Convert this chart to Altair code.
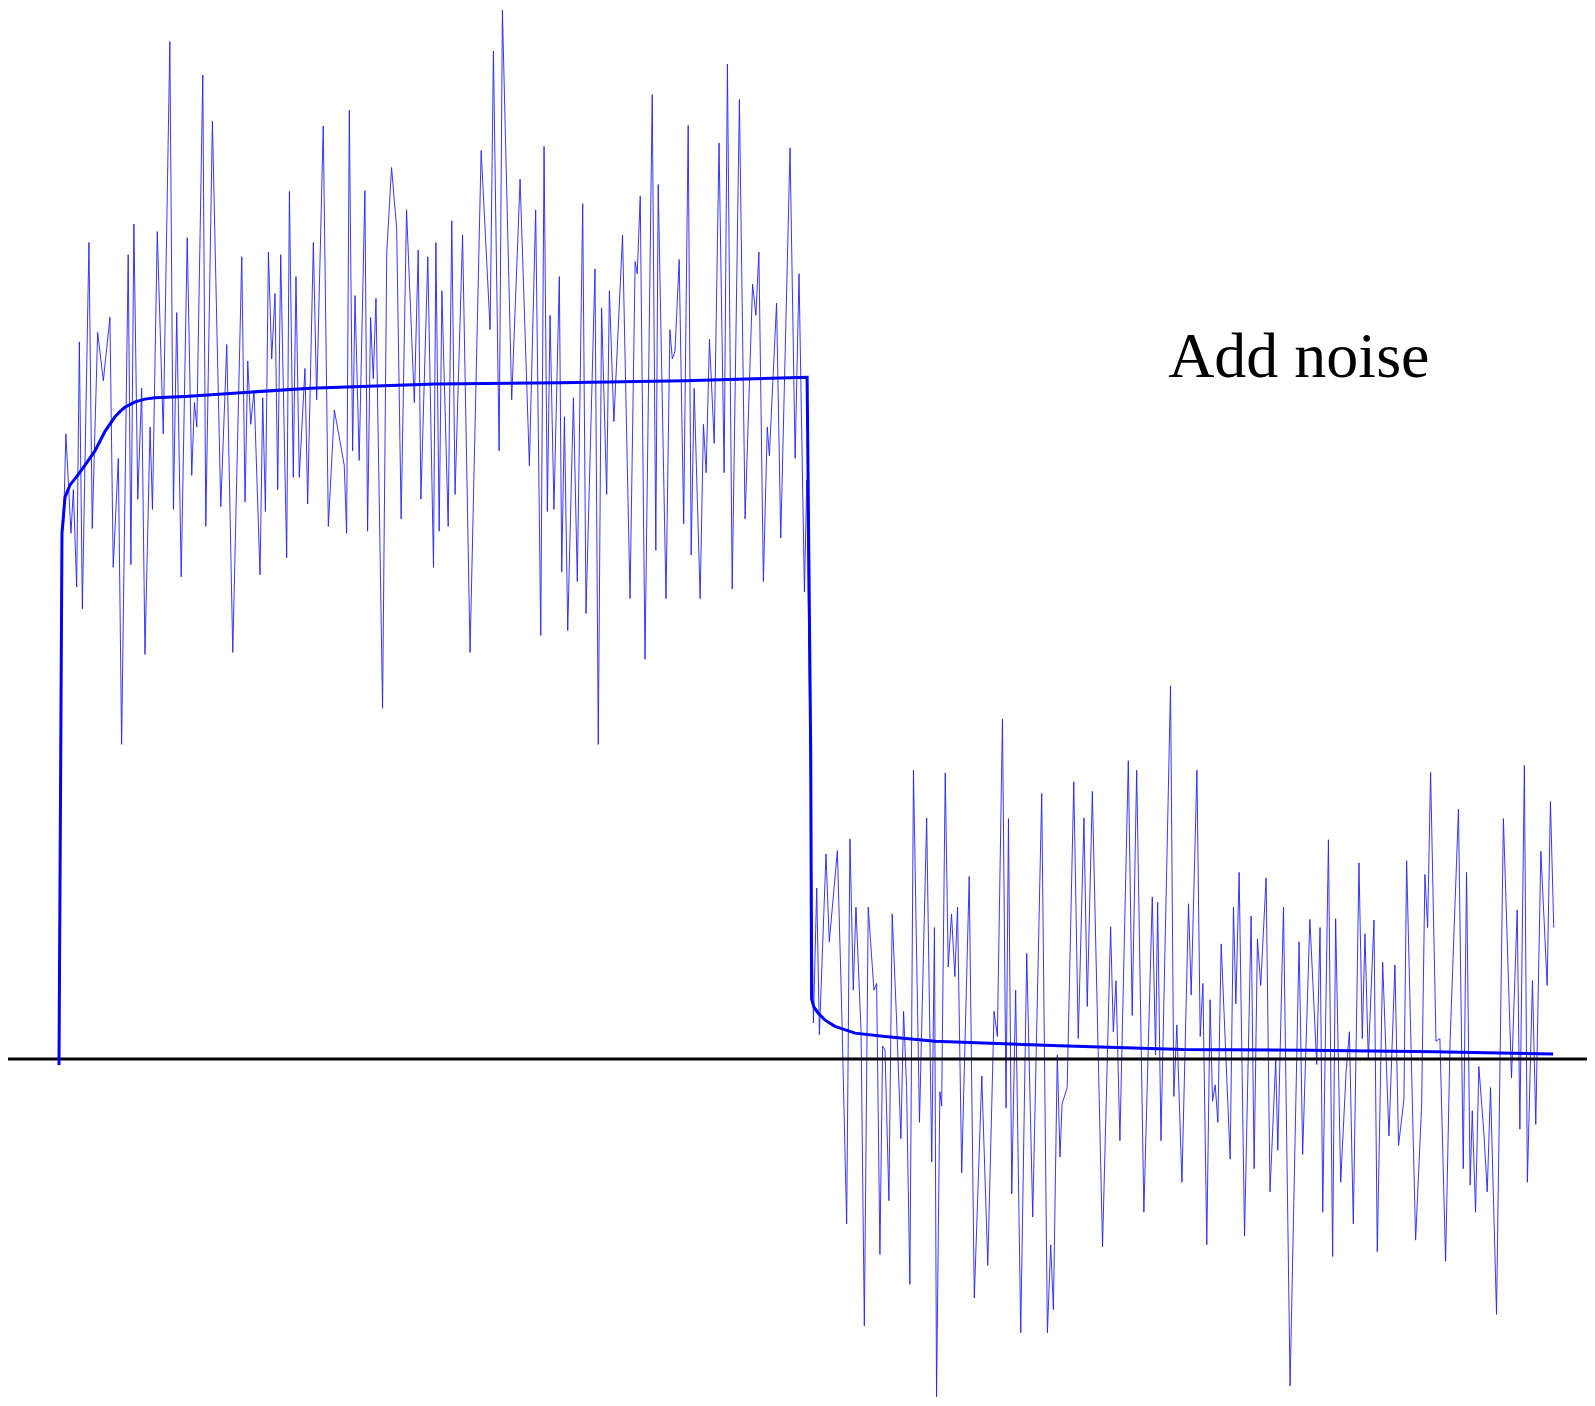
import altair as alt
import pandas as pd

# Noisy measurement (sample index, value); step of height 1 between samples 0 and 250
noise_t = [1.5, 2.3, 4.0, 4.8, 5.9, 6.8, 7.8, 10.0, 11.1, 12.9, 14.8, 17.0, 18.1, 19.8, 20.9, 23.1, 24.0, 25.0,
           26.3, 27.6, 28.7, 30.4, 31.2, 32.8, 34.8, 37.0, 38.2, 39.3, 40.8,
           42.8, 44.3, 45.2, 46.0, 48.0, 49.0, 51.2, 54.0, 56.0, 58.0, 61.0, 62.1, 63.0, 64.0, 65.1, 67.1, 68.0,
           68.9, 69.9, 71.0, 72.1, 73.0, 74.0, 76.0, 76.9, 78.2, 79.1, 80.2, 82.1, 83.0,
           84.9, 86.0, 88.2, 89.9, 91.9, 93.8, 95.2, 96.0, 96.9, 98.0, 98.8, 100.2, 102.1, 103.0, 104.0, 104.9,
           105.8, 108.0, 109.4, 111.0, 112.7, 114.2, 116.0, 118.6, 119.9, 120.8, 123.1, 125.0,
           125.8, 126.9, 127.8, 129.9, 131.1, 132.2, 134.7, 137.2, 140.9, 143.9, 145.0, 146.9, 148.0, 151.1,
           153.9, 157.0, 159.1, 160.8, 161.9, 163.0, 163.9, 165.2, 167.0,
           167.8, 168.7, 169.8, 171.7, 173.0, 174.8, 175.9, 178.9, 180.0, 181.1, 182.8, 183.7, 185.2, 188.1,
           190.6, 192.3, 193.0, 194.0, 195.6, 198.0, 199.2, 200.0, 202.6, 203.9, 204.7, 205.6, 207.0, 208.5,
           210.0, 211.0, 212.0, 214.0, 215.1, 216.0, 217.1, 218.7, 220.3, 222.0, 223.1, 224.7, 227.1, 229.0,
           231.5, 232.6, 233.6, 235.1, 236.4, 237.1, 239.5, 240.9, 244.0, 245.7, 247.0, 248.8, 249.6,
           251.8, 252.9, 253.8, 256.0, 257.1, 259.8, 261.2, 262.9, 264.0, 265.1, 266.0, 267.7, 268.8, 270.1,
           272.0, 272.9, 274.0, 274.9, 275.7, 277.0, 278.1, 279.6, 281.0, 281.9, 282.9, 284.0, 285.2, 287.2,
           289.6, 291.3, 292.2,
           292.9, 294.0, 294.6, 295.8, 296.8, 297.9, 299.0, 299.9, 301.3, 303.8, 305.5, 308.0, 310.0, 312.1,
           313.2, 314.9, 316.1, 316.9, 318.0, 319.3, 321.0, 323.0, 325.0, 328.0, 329.9, 331.0, 331.9, 333.2,
           334.1, 334.8, 336.5, 338.7, 340.2, 342.1, 343.2, 344.9, 348.3, 351.0, 351.9, 352.8, 354.1, 356.9,
           358.2, 359.7, 362.1, 364.9, 366.0, 366.7, 367.8, 371.0, 372.1, 373.1, 374.8,
           377.0, 377.9, 379.8, 380.9, 381.8, 383.1, 384.2, 385.0, 385.9, 386.8, 387.9, 390.9, 392.0, 392.8,
           393.9, 395.7, 397.9, 398.9, 400.0, 401.1, 402.9, 404.2, 406.1, 406.8, 408.7, 410.9, 413.9, 415.1, 417.5,
           419.8, 420.9, 421.8, 423.7, 425.1, 426.1, 427.8, 429.6, 430.7, 432.0, 433.9, 435.0, 435.9, 437.0,
           438.9, 440.0, 441.8, 443.9, 445.9, 447.1, 448.9, 449.8, 452.8, 454.8, 455.9, 456.8, 457.8,
           459.6, 460.9, 462.8, 464.3, 467.1, 468.7, 469.8, 471.0, 471.7, 472.8, 473.9, 475.6, 476.7, 477.8,
           479.8, 482.1, 484.8, 486.7, 487.6, 489.1, 490.1, 491.8, 492.9, 494.6, 496.7, 497.8, 498.9]

noise_v = [0.78, 0.918, 0.772, 0.836, 0.693, 1.053, 0.661, 1.199, 0.779, 1.067, 0.996, 1.089, 0.722, 0.882, 0.462, 1.181, 0.726, 1.226,
           0.822, 0.985, 0.594, 0.928, 0.807, 1.215, 0.918, 1.494, 0.807, 1.096, 0.708,
           1.206, 0.857, 0.964, 0.928, 1.445, 0.782, 1.377, 0.811, 1.049, 0.597, 1.178, 0.818, 1.025, 0.932, 0.982, 0.711, 0.971,
           0.804, 1.185, 1.028, 1.124, 0.836, 1.181, 0.736, 1.274, 0.854, 1.149, 0.854, 1.014, 0.815,
           1.199, 0.968, 1.370, 0.782, 0.953, 0.907, 0.872, 0.772, 1.393, 0.893, 1.121, 0.879, 1.275, 0.775, 1.089, 0.999,
           1.117, 0.515, 1.185, 1.309, 1.220, 0.793, 1.247, 0.964, 1.188, 0.822, 1.178, 0.722,
           1.199, 0.775, 1.128, 0.782, 1.231, 0.829, 1.210, 0.597, 1.334, 1.071, 1.480, 0.893, 1.540, 0.968,
           1.292, 0.871, 1.247, 0.622, 1.340, 0.804, 1.092, 0.807, 1.149,
           0.715, 0.943, 0.629, 0.971, 0.701, 1.256, 0.654, 1.160, 0.462, 1.103, 0.829, 1.128, 0.936, 1.210,
           0.676, 1.171, 1.153, 1.267, 0.587, 1.416, 0.747, 1.284, 0.676, 1.071, 1.028, 1.039, 1.174, 0.786,
           1.371, 0.740, 0.985, 0.676, 0.932, 0.861, 1.057, 0.904, 1.345, 0.861, 1.461, 0.690, 1.409, 0.793,
           1.138, 1.092, 1.185, 0.701, 0.928, 0.886, 1.110, 0.765, 1.338, 0.882, 1.153, 0.686, 0.850,
           0.053, 0.251, 0.036, 0.301, 0.172, 0.306, 0.081, -0.242, 0.323, 0.101, 0.223, 0.040, -0.392, 0.223,
           0.101, 0.111, -0.287, 0.019, 0.013, -0.208, 0.213, 0.053, -0.117, 0.070, -0.042, -0.331, 0.424, -0.093,
           0.354, -0.151, 0.193,
           -0.496, -0.048, -0.069, 0.420, 0.135, 0.213, 0.121, 0.223, -0.167, 0.268, -0.351, -0.025, -0.303, 0.070,
           0.033, 0.499, -0.072, 0.353, -0.198, 0.101, -0.402, 0.155, -0.232, 0.390, -0.402, -0.273, -0.368, 0.006,
           -0.144, -0.066, -0.042, 0.407, 0.030, 0.354, 0.077, 0.393, -0.276, 0.194, 0.040, 0.115, -0.120, 0.438,
           0.064, 0.424, -0.225, 0.238, 0.006, 0.230, -0.120, 0.548, -0.055, 0.050, -0.181,
           0.228, 0.094, 0.424, 0.033, 0.111, -0.273, 0.087, -0.062, -0.038, -0.093, 0.169, -0.147, 0.223, 0.081,
           0.274, -0.260, 0.210, -0.161, 0.176, 0.108, 0.266, -0.195, -0.001, -0.134, 0.223, -0.480, 0.172, -0.140, 0.205,
           -0.008, 0.193, -0.225, 0.322, -0.290, 0.206, -0.181, -0.018, 0.040, -0.242, 0.288, 0.030, 0.184, -0.001,
           0.204, -0.283, 0.142, -0.113, 0.138, -0.127, -0.059, 0.291, -0.266, -0.069, 0.271, 0.193, 0.421,
           0.026, 0.030, -0.297, 0.026, 0.367, -0.161, 0.274, -0.185, -0.076, -0.225, -0.011, -0.110, -0.195, -0.042,
           -0.375, 0.353, -0.028, 0.219, -0.103, 0.431, -0.181, 0.115, -0.096, 0.305, 0.108, 0.378, 0.193]

# Smoothed estimate
smooth_t = [0, 1.0, 2.0, 3.7, 6.0, 8.7, 12.0, 15.4, 18.7, 20.4, 22.0, 25.4, 28.7, 32.0, 42.1, 83.8, 125.5, 167.2,
            208.9, 249.7, 250.9, 251.2, 252.0, 253.3, 255.7, 259.0, 265.7, 275.7, 292.4, 334.0, 375.0, 417.0,
            459.0, 498.7]
smooth_v = [-0.009, 0.772, 0.825, 0.843, 0.856, 0.872, 0.893, 0.922, 0.943, 0.951, 0.957, 0.965, 0.969, 0.971,
            0.973, 0.985, 0.991, 0.993, 0.996, 1.001, 0.45, 0.088, 0.076, 0.068, 0.057, 0.048, 0.038, 0.033,
            0.026, 0.0195, 0.014, 0.013, 0.0106, 0.0073]

label_text = ["Add noise"]
label_t = [370.2]
label_v = [1.0015]

W, H = 1579, 1390
xs = alt.Scale(domain=[-17.02, 510.0], nice=False, zero=False)
ys = alt.Scale(domain=[-0.4978, 1.5433], nice=False, zero=False)

noise_df = pd.DataFrame({"t": noise_t, "v": noise_v})
smooth_df = pd.DataFrame({"t": smooth_t, "v": smooth_v})
label_df = pd.DataFrame({"t": label_t, "v": label_v, "text": label_text})
zero_df = pd.DataFrame({"v": [0.0]})

noise = alt.Chart(noise_df).mark_line(color="#2222ff", strokeWidth=1, opacity=0.9).encode(
    x=alt.X("t:Q", scale=xs, axis=None),
    y=alt.Y("v:Q", scale=ys, axis=None),
    order="t:Q",
)

zero = alt.Chart(zero_df).mark_rule(color="black", strokeWidth=3).encode(
    y=alt.Y("v:Q", scale=ys, axis=None),
    x=alt.value(-3),
    x2=alt.value(W),
)

smooth = alt.Chart(smooth_df).mark_line(color="#0000ff", strokeWidth=3).encode(
    x=alt.X("t:Q", scale=xs, axis=None),
    y=alt.Y("v:Q", scale=ys, axis=None),
    order="t:Q",
)

label = alt.Chart(label_df).mark_text(
    font="Liberation Serif", fontSize=64, align="left", baseline="alphabetic", color="black"
).encode(
    x=alt.X("t:Q", scale=xs, axis=None),
    y=alt.Y("v:Q", scale=ys, axis=None),
    text="text:N",
)

chart = alt.layer(noise, zero, smooth, label).properties(
    width=W, height=H, padding=0, autosize=alt.AutoSizeParams(type="none"), background="white"
).configure_view(stroke=None)

chart.save("out.html", embed_options={"renderer": "svg", "actions": False})
